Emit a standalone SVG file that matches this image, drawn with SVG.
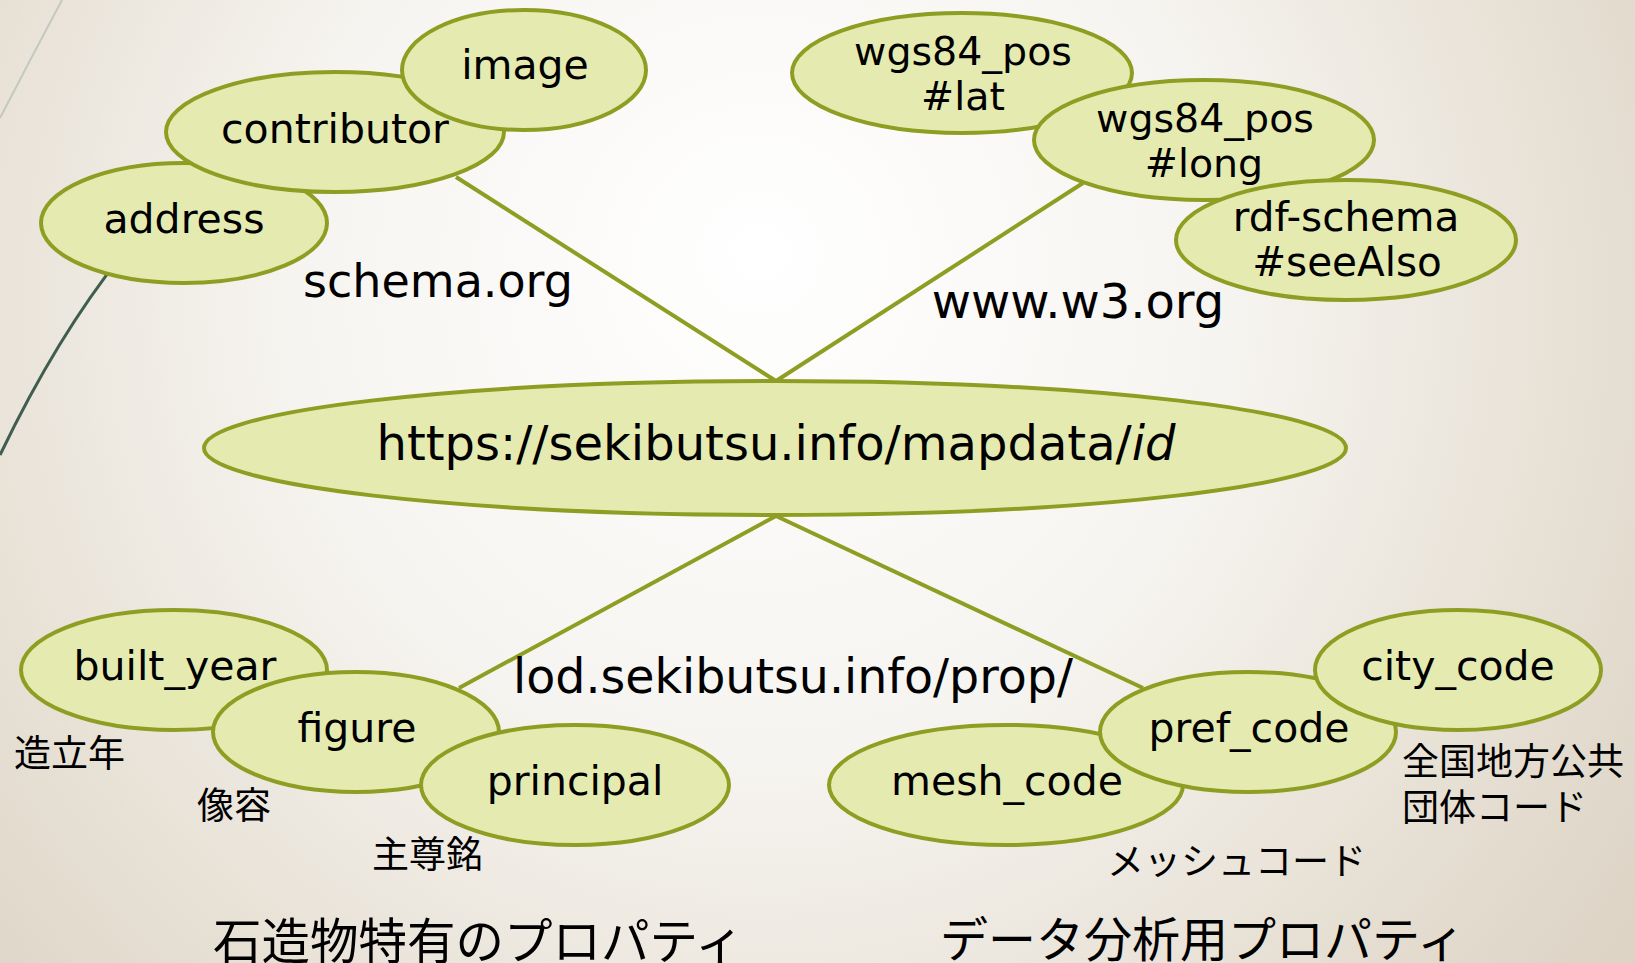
<svg xmlns="http://www.w3.org/2000/svg" width="1635" height="963" viewBox="0 0 1635 963">
<defs>
<radialGradient id="bg" gradientUnits="userSpaceOnUse" cx="760" cy="330" r="1050" fx="760" fy="250">
<stop offset="0" stop-color="#ffffff"/>
<stop offset="0.45" stop-color="#f6f4f0"/>
<stop offset="0.8" stop-color="#e6dfd3"/>
<stop offset="1" stop-color="#ddd4c6"/>
</radialGradient>
<style>
.n{fill:#e5ebb0;stroke:#8e9e22;stroke-width:4}
.c{stroke:#8e9e22;stroke-width:4;fill:none}
.t{font-family:"DejaVu Sans",Verdana,sans-serif;fill:#000;text-anchor:middle}
.j{font-family:"Noto Sans CJK JP","Noto Sans CJK SC",sans-serif;fill:#000}
</style>
</defs>
<rect width="1635" height="963" fill="url(#bg)"/>
<path d="M62,0 Q30,60 0,118" stroke="#c3c9c0" stroke-width="2" fill="none"/>
<path d="M130,245 Q60,330 0,455" stroke="#3f5e50" stroke-width="3" fill="none"/>
<g id="connectors">
<line class="c" x1="456" y1="177" x2="776" y2="381"/>
<line class="c" x1="1083" y1="183" x2="776" y2="381"/>
<line class="c" x1="776" y1="516" x2="459" y2="688"/>
<line class="c" x1="776" y1="516" x2="1143" y2="688"/>
</g>
<g id="address"><ellipse class="n" cx="184" cy="223" rx="143" ry="60"/><text class="t" x="184" y="233" font-size="41">address</text></g>
<g id="contributor"><ellipse class="n" cx="335" cy="132" rx="169" ry="60"/><text class="t" x="335" y="143" font-size="41">contributor</text></g>
<g id="image"><ellipse class="n" cx="524" cy="70" rx="122" ry="60"/><text class="t" x="525" y="79" font-size="41">image</text></g>
<text id="schema-label" class="t" x="438" y="297" font-size="46">schema.org</text>
<g id="lat"><ellipse class="n" cx="962" cy="73" rx="170" ry="60"/><text class="t" x="963" y="65" font-size="39.5">wgs84_pos</text><text class="t" x="963" y="110" font-size="39.5">#lat</text></g>
<g id="long"><ellipse class="n" cx="1204" cy="140" rx="170" ry="60"/><text class="t" x="1205" y="132" font-size="39.5">wgs84_pos</text><text class="t" x="1204" y="177" font-size="39.5">#long</text></g>
<g id="seeAlso"><ellipse class="n" cx="1346" cy="240" rx="170" ry="60"/><text class="t" x="1346" y="231" font-size="40.5">rdf-schema</text><text class="t" x="1347" y="276" font-size="40.5">#seeAlso</text></g>
<text id="w3-label" class="t" x="1078" y="318" font-size="48">www.w3.org</text>
<g id="center"><ellipse class="n" cx="775" cy="448" rx="571" ry="67"/><text class="t" x="776" y="460" font-size="48">https://sekibutsu.info/mapdata/<tspan font-style="italic">id</tspan></text></g>
<text id="prop-label" class="t" x="793" y="693" font-size="47.5">lod.sekibutsu.info/prop/</text>
<g id="built_year"><ellipse class="n" cx="174" cy="670" rx="153" ry="60"/><text class="t" x="175" y="680" font-size="41">built_year</text></g>
<g id="figure"><ellipse class="n" cx="356" cy="732" rx="143" ry="60"/><text class="t" x="357" y="742" font-size="41">figure</text></g>
<g id="principal"><ellipse class="n" cx="575" cy="785" rx="154" ry="60"/><text class="t" x="575" y="795" font-size="41">principal</text></g>
<g id="mesh_code"><ellipse class="n" cx="1006" cy="785" rx="177" ry="60"/><text class="t" x="1007" y="795" font-size="41">mesh_code</text></g>
<g id="pref_code"><ellipse class="n" cx="1248" cy="732" rx="148" ry="60"/><text class="t" x="1249" y="742" font-size="41">pref_code</text></g>
<g id="city_code"><ellipse class="n" cx="1458" cy="670" rx="143" ry="60"/><text class="t" x="1458" y="680" font-size="41">city_code</text></g>
<text class="j" x="14" y="767" font-size="37">造立年</text>
<text class="j" x="197" y="819" font-size="37">像容</text>
<text class="j" x="372" y="868" font-size="37">主尊銘</text>
<text class="j" font-size="37"><tspan x="1402" y="775">全国地方公共</tspan><tspan x="1402" y="821">団体コード</tspan></text>
<text class="j" x="1107" y="875" font-size="37">メッシュコード</text>
<text class="j" x="213" y="959" font-size="48.5">石造物特有のプロパティ</text>
<text class="j" x="940" y="957" font-size="48">データ分析用プロパティ</text>
</svg>
